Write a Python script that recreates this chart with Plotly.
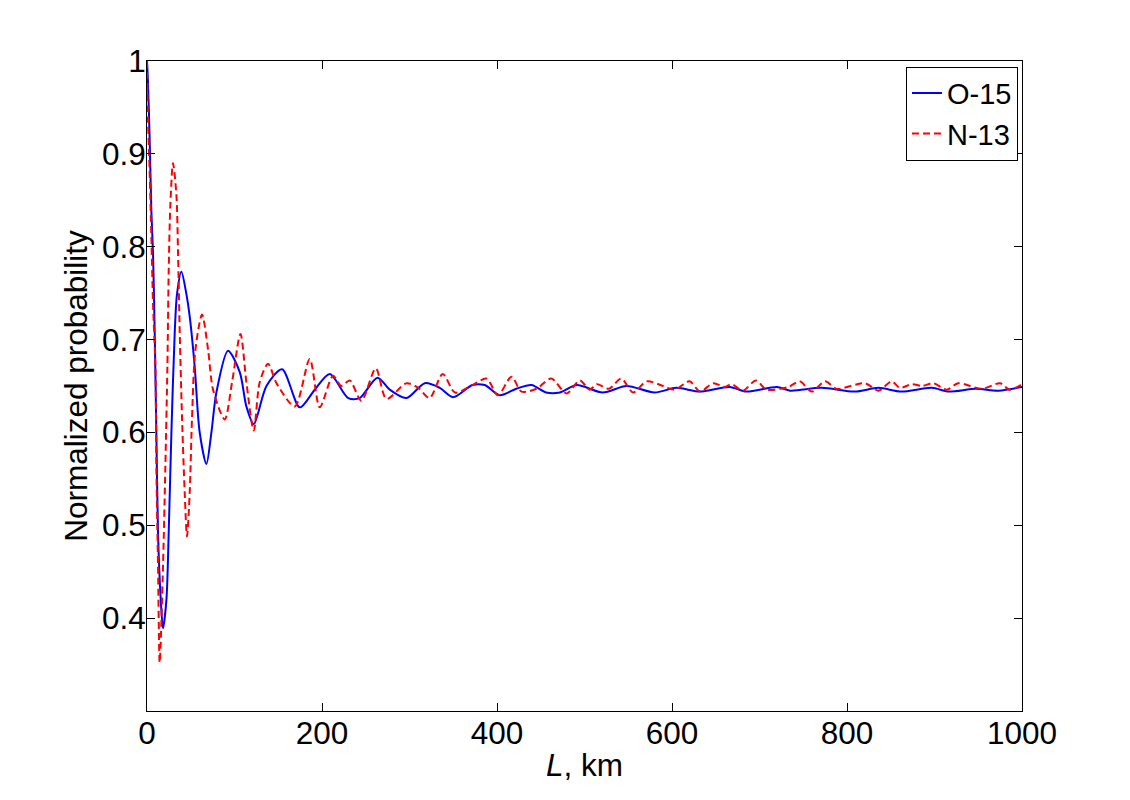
import plotly.graph_objects as go

# O-15 curve (L in km, normalized probability)
o15_L = [0, 1.2, 3, 5, 6.9, 8.8, 10.7, 12.6, 15.7, 18.3, 22.2, 24.8, 27.9, 31.7, 34.3,
         39.3, 45, 48.8, 54.5, 60.2, 67.9, 73.6, 79.3, 92.6, 106, 113.6, 122, 136.5,
         154.4, 174.6, 191.7, 208.9, 230, 243, 263.4, 277.5, 296.5, 317.5, 334.6,
         349.8, 372, 386, 403, 422, 439.5, 456, 472, 491, 521, 548, 580, 605, 632,
         666, 685, 720, 735, 771, 809, 836, 862, 897, 916, 947, 973, 1000]
o15_P = [1.0, 0.975, 0.917, 0.838, 0.792, 0.708, 0.600, 0.492, 0.420, 0.389, 0.420,
         0.492, 0.600, 0.708, 0.749, 0.773, 0.749, 0.725, 0.671, 0.600, 0.566, 0.600,
         0.643, 0.688, 0.665, 0.628, 0.609, 0.650, 0.668, 0.627, 0.646, 0.663, 0.637,
         0.637, 0.659, 0.646, 0.637, 0.653, 0.648, 0.638, 0.651, 0.651, 0.640, 0.647,
         0.651, 0.643, 0.643, 0.651, 0.643, 0.650, 0.643, 0.648, 0.644, 0.649, 0.644,
         0.649, 0.645, 0.648, 0.644, 0.648, 0.644, 0.648, 0.644, 0.647, 0.645, 0.649]

# N-13 curve
n13_L = [0, 1.2, 3, 5, 6.9, 9.6, 10.7, 12.6, 14.5, 18.3, 21, 23.3, 24.8, 26.7, 29.7,
         33.6, 35.5, 37.4, 40, 43.1, 45.7, 48.8, 51.5, 55.3, 62.9, 69.8, 75.5, 88.8,
         97.2, 106.8, 113.6, 122, 128.8, 138.4, 148, 168.9, 186, 197.4, 212.7, 222,
         231.7, 245, 261.5, 273.7, 296.5, 310, 323, 338, 352, 372, 388, 401, 416.6,
         428, 445, 462, 479.5, 494.7, 506, 514, 528, 542, 555.6, 571, 590, 603, 620,
         632, 647, 660, 668, 681, 696, 708, 733, 746, 759.5, 775, 788, 820.5, 836,
         851, 860.5, 874, 886, 898.6, 914, 927, 954, 975, 986, 1000]
n13_P = [1.0, 0.935, 0.881, 0.810, 0.738, 0.671, 0.564, 0.456, 0.352, 0.456, 0.564,
         0.671, 0.774, 0.845, 0.890, 0.856, 0.792, 0.708, 0.617, 0.535, 0.488, 0.535,
         0.617, 0.689, 0.727, 0.689, 0.646, 0.614, 0.654, 0.706, 0.654, 0.602, 0.654,
         0.674, 0.653, 0.628, 0.679, 0.627, 0.661, 0.650, 0.656, 0.634, 0.669, 0.636,
         0.653, 0.648, 0.637, 0.663, 0.643, 0.651, 0.658, 0.640, 0.660, 0.644, 0.647,
         0.658, 0.642, 0.656, 0.646, 0.652, 0.647, 0.658, 0.643, 0.655, 0.650, 0.646,
         0.655, 0.644, 0.653, 0.649, 0.652, 0.645, 0.656, 0.646, 0.649, 0.655, 0.644,
         0.655, 0.647, 0.653, 0.645, 0.655, 0.648, 0.652, 0.650, 0.653, 0.646, 0.653,
         0.647, 0.653, 0.646, 0.652]

x_ticks = [0, 200, 400, 600, 800, 1000]
y_ticks = [0.4, 0.5, 0.6, 0.7, 0.8, 0.9, 1.0]
y_labels = ['0.4', '0.5', '0.6', '0.7', '0.8', '0.9', '1']

font = dict(family='Liberation Sans, Arial', size=31.5, color='black')

fig = go.Figure()
fig.add_trace(go.Scatter(x=o15_L, y=o15_P, mode='lines', name='O-15',
                         line=dict(color='#0000ff', width=2, shape='spline', smoothing=0.8)))
fig.add_trace(go.Scatter(x=n13_L, y=n13_P, mode='lines', name='N-13',
                         line=dict(color='#ff0000', width=2, dash='7px,4px',
                                   shape='spline', smoothing=0.8)))

axis_common = dict(showline=True, linecolor='black', linewidth=1, mirror='allticks',
                   ticks='inside', ticklen=8, tickcolor='black', showgrid=False,
                   zeroline=False, tickfont=font, ticklabelstandoff=-6)

fig.update_xaxes(range=[0, 1000], tickvals=x_ticks,
                 title=dict(text='<i>L</i>, km', font=font, standoff=4), **axis_common)
fig.update_yaxes(range=[0.3, 1.0], tickvals=y_ticks, ticktext=y_labels,
                 title=dict(text='Normalized probability', font=font, standoff=4), **axis_common)

# the page adds an 8px body margin, so the margins are shifted to land the axes box
fig.update_layout(
    width=1130, height=800,
    margin=dict(l=139, r=116, t=53, b=97),
    paper_bgcolor='white', plot_bgcolor='white',
    font=font,
    legend=dict(x=0.9954, y=0.9915, xanchor='right', yanchor='top',
                bgcolor='white', bordercolor='black', borderwidth=1,
                font=dict(family='Liberation Sans, Arial', size=29, color='black'),
                tracegroupgap=0, itemwidth=30),
)

fig.write_html("out.html")
